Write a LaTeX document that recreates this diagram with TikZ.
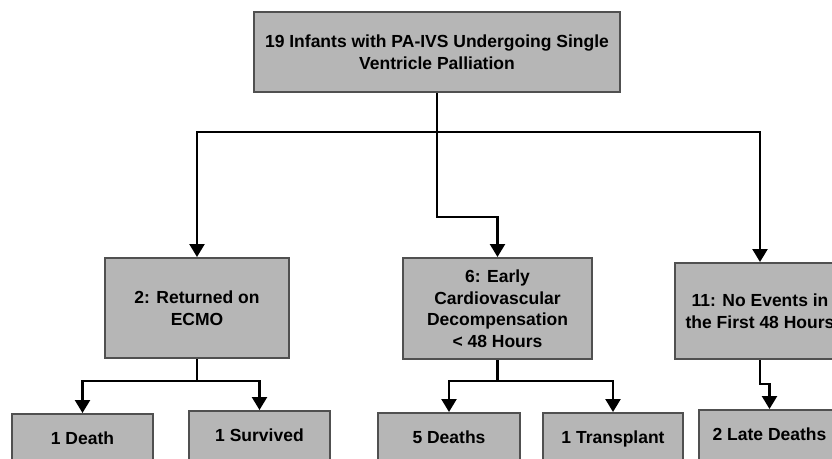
\documentclass[tikz,border=0pt]{standalone}
\usepackage{fontspec}
\setmainfont{Liberation Sans}
\usetikzlibrary{arrows.meta}
\definecolor{boxfill}{RGB}{182,182,182}
\definecolor{boxline}{RGB}{80,80,80}
\begin{document}
\begin{tikzpicture}[x=1pt,y=-1pt,
  box/.style={draw=boxline, line width=2pt, fill=boxfill, inner sep=0pt, align=center,
    font=\fontsize{17.5}{21.5}\selectfont\bfseries},
  leaf/.style={box, anchor=north, minimum height=56pt, text height=13pt, text depth=8.4pt},
  ln/.style={line width=2.4pt},
  arr/.style={line width=2.4pt, -{Triangle[width=15pt,length=13pt]}}]
\useasboundingbox (0,0) rectangle (832,458);
\clip (0,0) rectangle (832,458);
\fill[white] (0,0) rectangle (832,458);

\node[box, minimum width=366pt, minimum height=80pt] (top) at (437,52)
  {19 Infants with PA-IVS Undergoing Single\\Ventricle Palliation};
\node[box, minimum width=184pt, minimum height=100pt] (ecmo) at (197,308)
  {2: Returned on\\ECMO};
\node[box, minimum width=189pt, minimum height=101pt] (early) at (497.5,308.5)
  {6: Early\\Cardiovascular\\Decompensation\\< 48 Hours};
\node[box, minimum width=170pt, minimum height=96pt] (noev) at (760,311)
  {11: No Events in\\the First 48 Hours};

\node[leaf, minimum width=141pt] (death) at (82.5,413) {1 Death};
\node[leaf, minimum width=141pt] (surv) at (259.5,410) {1 Survived};
\node[leaf, minimum width=142pt] (d5) at (449,412) {5 Deaths};
\node[leaf, minimum width=140pt] (transp) at (613,412) {1 Transplant};
\node[leaf, minimum width=141pt] (late) at (769.5,409) {2 Late Deaths};

\coordinate (hub) at (437,132);
\coordinate (jog) at (437,217);
\draw[ln] (top.south) -- (hub);
\draw[arr] (hub) -| (ecmo.north);
\draw[arr] (hub) -| (noev.north);
\draw[arr] (hub) -- (jog) -| (early.north);

\draw[arr] (ecmo.south) -- ++(0,22) coordinate (e1) -| (death.north);
\draw[arr] (e1) -| (surv.north);
\draw[arr] (early.south) -- ++(0,21) coordinate (e2) -| (d5.north);
\draw[arr] (e2) -| (transp.north);
\draw[arr] (noev.south) -- ++(0,24) -| (late.north);
\end{tikzpicture}
\end{document}
